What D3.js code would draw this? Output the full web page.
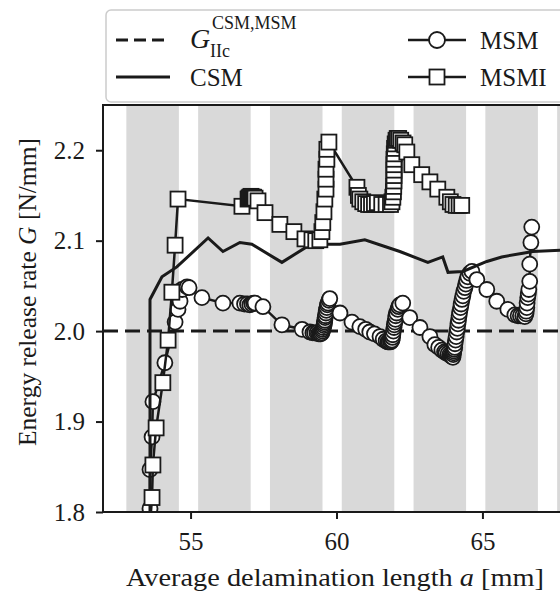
<!DOCTYPE html>
<html>
<head>
<meta charset="utf-8">
<script src="https://cdn.jsdelivr.net/npm/d3@7"></script>
<style>
  body { margin: 0; background: white; }
  svg { display: block; font-family: 'Liberation Serif', serif; }
</style>
</head>
<body>
<script>
// data
var xTicks = [55, 60, 65];
var yTicks = [1.8, 1.9, 2.0, 2.1, 2.2];
var bandStarts = [52.8, 55.26, 57.72, 60.18, 62.64, 65.1, 67.56];
var bandWidth = 1.8;
var gCrit = 2.0;

var csmPoints = [[53.61,1.78],[53.61,2.035],[54.02,2.06],[54.53,2.071],[55.6,2.103],[56.11,2.088],
  [56.69,2.098],[57.1,2.096],[58.13,2.076],[58.92,2.092],[59.43,2.096],[60.12,2.096],[60.97,2.101],
  [62.17,2.088],[63.13,2.076],[63.64,2.082],[63.82,2.065],[64.33,2.066],[65.15,2.077],[65.66,2.082],
  [66.73,2.088],[68,2.09]];

var msmPoints = [[53.61,1.804],[53.61,1.847],[53.68,1.883],[53.71,1.922],[54.12,1.965],[54.47,2.010],
  [54.57,2.024],[54.64,2.033],[54.71,2.046],[54.88,2.049],[54.95,2.048],[55.39,2.037],[56.11,2.031],
  [56.69,2.031],[56.85,2.030],[56.95,2.030],[57.03,2.029],[57.1,2.030],[57.16,2.031],[57.21,2.031],
  [57.48,2.027],[58.13,2.007],[58.82,2.002],[59.09,1.999],[59.19,1.998],[59.25,1.998],[59.33,1.998],
  [59.38,1.997],[59.43,1.997],[59.46,1.997],[59.5,1.998],[59.52,2.000],[59.53,2.002],[59.55,2.004],
  [59.57,2.006],[59.58,2.008],[59.59,2.010],[59.6,2.012],[59.61,2.015],[59.62,2.017],[59.64,2.020],
  [59.65,2.023],[59.67,2.026],[59.69,2.029],[59.71,2.031],[59.74,2.034],[59.77,2.036],
  [60.12,2.020],[60.53,2.010],[60.8,2.005],[61.0,2.002],[61.14,1.999],[61.3,1.997],[61.49,1.994],
  [61.6,1.991],[61.7,1.989],[61.76,1.988],[61.8,1.988],[61.85,1.988],[61.88,1.989],[61.9,1.990],
  [61.92,1.993],[61.93,1.996],[61.95,2.000],[61.97,2.004],[61.98,2.007],[62.0,2.010],[62.02,2.013],
  [62.03,2.017],[62.06,2.020],[62.1,2.024],[62.13,2.027],[62.17,2.029],[62.27,2.031],
  [62.51,2.015],[62.86,2.004],[63.2,1.994],[63.37,1.985],[63.5,1.982],[63.61,1.979],[63.7,1.977],
  [63.75,1.976],[63.82,1.975],[63.88,1.974],[63.92,1.973],[63.95,1.972],[63.99,1.971],[64.0,1.974],
  [64.01,1.976],[64.02,1.978],[64.03,1.980],[64.05,1.982],[64.06,1.986],[64.08,1.990],[64.1,1.994],
  [64.12,1.999],[64.14,2.003],[64.16,2.008],[64.18,2.012],[64.2,2.017],[64.22,2.021],[64.25,2.026],
  [64.27,2.030],[64.3,2.035],[64.33,2.039],[64.36,2.044],[64.4,2.048],[64.43,2.052],[64.46,2.056],
  [64.5,2.060],[64.57,2.064],[64.64,2.066],[64.81,2.057],[65.15,2.046],[65.49,2.033],[65.87,2.024],
  [66.11,2.018],[66.22,2.017],[66.3,2.017],[66.38,2.017],[66.45,2.016],[66.49,2.019],[66.5,2.022],
  [66.52,2.026],[66.53,2.031],[66.55,2.037],[66.57,2.041],[66.59,2.046],[66.62,2.055],[66.62,2.074],
  [66.66,2.098],[66.69,2.115]];

var msmiPoints = [[53.61,1.786],[53.68,1.816],[53.71,1.852],[53.82,1.893],[54.05,1.943],[54.23,1.990],
  [54.36,2.043],[54.47,2.095],[54.57,2.146],[56.76,2.138],[56.97,2.146],[57.0,2.147],[57.03,2.148],
  [57.07,2.149],[57.1,2.148],[57.13,2.148],[57.16,2.148],[57.21,2.147],[57.31,2.144],[57.55,2.131],
  [58.06,2.118],[58.54,2.110],[58.92,2.102],[59.16,2.101],[59.29,2.100],[59.43,2.101],[59.5,2.110],
  [59.53,2.120],[59.57,2.132],[59.6,2.146],[59.64,2.157],[59.64,2.168],[59.64,2.179],[59.67,2.190],
  [59.67,2.201],[59.74,2.209],[60.70,2.159],[60.75,2.150],[60.80,2.146],[60.9,2.143],[61.0,2.141],
  [61.1,2.140],[61.2,2.140],[61.3,2.141],[61.4,2.142],[61.55,2.140],[61.7,2.140],[61.85,2.140],
  [61.9,2.143],[61.93,2.148],[61.95,2.154],[61.96,2.160],[61.97,2.166],[61.97,2.172],[61.97,2.178],
  [61.97,2.184],[61.97,2.190],[61.98,2.196],[61.99,2.202],[62.01,2.207],[62.04,2.211],[62.08,2.213],
  [62.13,2.213],[62.2,2.211],[62.28,2.208],[62.34,2.206],[62.41,2.198],[62.58,2.184],[62.92,2.173],
  [63.2,2.165],[63.47,2.157],[63.78,2.148],[63.9,2.143],[63.99,2.140],[64.1,2.139],[64.2,2.139],
  [64.29,2.139]];

var ink = '#1a1a1a';
var plot = {left: 103, right: 570, top: 105, bottom: 512};

var svg = d3.select('body').append('svg')
  .attr('width', 560)
  .attr('height', 595);

var x = d3.scaleLinear().domain([52, 68]).range([plot.left, plot.right]);
var y = d3.scaleLinear().domain([1.8, 2.25]).range([plot.bottom, plot.top]);

svg.append('clipPath').attr('id', 'plotclip')
  .append('rect')
  .attr('x', plot.left).attr('y', plot.top)
  .attr('width', plot.right - plot.left).attr('height', plot.bottom - plot.top);

var inner = svg.append('g').attr('clip-path', 'url(#plotclip)');

// gray bands
inner.selectAll('rect.band')
  .data(bandStarts)
  .enter()
  .append('rect')
  .attr('class', 'band')
  .attr('x', function(d) {return x(d);})
  .attr('y', plot.top)
  .attr('width', function(d) {return x(d + bandWidth) - x(d);})
  .attr('height', plot.bottom - plot.top)
  .style('fill', '#d9d9d9');

// critical value
inner.append('line')
  .attr('x1', plot.left).attr('x2', plot.right)
  .attr('y1', y(gCrit)).attr('y2', y(gCrit))
  .style('stroke', ink)
  .style('stroke-width', 3)
  .style('stroke-dasharray', '15,7');

var line = d3.line()
  .x(function(d) {return x(d[0]);})
  .y(function(d) {return y(d[1]);});

// MSM
inner.append('path')
  .datum(msmPoints)
  .attr('d', line)
  .style('fill', 'none')
  .style('stroke', ink)
  .style('stroke-width', 2.5);

inner.selectAll('circle.msm')
  .data(msmPoints)
  .enter()
  .append('circle')
  .attr('class', 'msm')
  .attr('cx', function(d) {return x(d[0]);})
  .attr('cy', function(d) {return y(d[1]);})
  .attr('r', 7.5)
  .style('fill', 'white')
  .style('stroke', ink)
  .style('stroke-width', 1.8);

// CSM
inner.append('path')
  .datum(csmPoints)
  .attr('d', line)
  .style('fill', 'none')
  .style('stroke', ink)
  .style('stroke-width', 3);

// MSMI
inner.append('path')
  .datum(msmiPoints)
  .attr('d', line)
  .style('fill', 'none')
  .style('stroke', ink)
  .style('stroke-width', 2.5);

inner.selectAll('rect.msmi')
  .data(msmiPoints)
  .enter()
  .append('rect')
  .attr('class', 'msmi')
  .attr('x', function(d) {return x(d[0]) - 7.5;})
  .attr('y', function(d) {return y(d[1]) - 7.5;})
  .attr('width', 15)
  .attr('height', 15)
  .style('fill', 'white')
  .style('stroke', ink)
  .style('stroke-width', 1.8);

// frame and axes
svg.append('rect')
  .attr('x', plot.left).attr('y', plot.top)
  .attr('width', plot.right - plot.left).attr('height', plot.bottom - plot.top)
  .style('fill', 'none')
  .style('stroke', ink)
  .style('stroke-width', 2);

svg.append('g')
  .attr('transform', 'translate(0,' + plot.bottom + ')')
  .call(d3.axisBottom(x).tickValues(xTicks).tickSize(7).tickSizeOuter(0).tickPadding(13));

svg.append('g')
  .attr('transform', 'translate(' + plot.left + ',0)')
  .call(d3.axisLeft(y).tickValues(yTicks).tickFormat(d3.format('.1f')).tickSize(7).tickSizeOuter(0).tickPadding(11));

svg.selectAll('.domain').remove();
svg.selectAll('.tick line').style('stroke', ink).style('stroke-width', 2);
svg.selectAll('.tick text')
  .style('font-family', "'Liberation Serif', serif")
  .style('font-size', '25px')
  .style('fill', ink);

// axis titles
svg.append('text')
  .attr('x', 335)
  .attr('y', 586)
  .attr('text-anchor', 'middle')
  .attr('font-size', 25)
  .attr('fill', ink)
  .attr('textLength', 418)
  .attr('lengthAdjust', 'spacingAndGlyphs')
  .html('Average delamination length <tspan font-style="italic">a</tspan> [mm]');

svg.append('text')
  .attr('transform', 'translate(36,292) rotate(-90)')
  .attr('text-anchor', 'middle')
  .attr('font-size', 25)
  .attr('fill', ink)
  .attr('textLength', 308)
  .attr('lengthAdjust', 'spacingAndGlyphs')
  .html('Energy release rate <tspan font-style="italic">G</tspan> [N/mm]');

// legend
var legend = svg.append('g');

legend.append('rect')
  .attr('x', 106).attr('y', 10)
  .attr('width', 480).attr('height', 92)
  .attr('rx', 5)
  .style('fill', 'white')
  .style('stroke', '#cccccc')
  .style('stroke-width', 1.5);

legend.append('line')
  .attr('x1', 116).attr('x2', 170).attr('y1', 40).attr('y2', 40)
  .style('stroke', ink).style('stroke-width', 3).style('stroke-dasharray', '12,6');

legend.append('line')
  .attr('x1', 116).attr('x2', 170).attr('y1', 77).attr('y2', 77)
  .style('stroke', ink).style('stroke-width', 3);

legend.append('line')
  .attr('x1', 408).attr('x2', 466).attr('y1', 40).attr('y2', 40)
  .style('stroke', ink).style('stroke-width', 2.5);
legend.append('circle')
  .attr('cx', 437).attr('cy', 40).attr('r', 8)
  .style('fill', 'white').style('stroke', ink).style('stroke-width', 1.8);

legend.append('line')
  .attr('x1', 408).attr('x2', 466).attr('y1', 77).attr('y2', 77)
  .style('stroke', ink).style('stroke-width', 2.5);
legend.append('rect')
  .attr('x', 429.5).attr('y', 69.5).attr('width', 15).attr('height', 15)
  .style('fill', 'white').style('stroke', ink).style('stroke-width', 1.8);

legend.append('text')
  .attr('x', 190).attr('y', 48)
  .attr('font-size', 28).attr('font-style', 'italic').attr('fill', ink)
  .text('G');
legend.append('text')
  .attr('x', 210).attr('y', 57)
  .attr('font-size', 18).attr('fill', ink)
  .text('IIc');
legend.append('text')
  .attr('x', 212).attr('y', 29)
  .attr('font-size', 18).attr('fill', ink)
  .text('CSM,MSM');

legend.append('text')
  .attr('x', 190).attr('y', 86)
  .attr('font-size', 25).attr('fill', ink)
  .text('CSM');
legend.append('text')
  .attr('x', 480).attr('y', 49)
  .attr('font-size', 25).attr('fill', ink)
  .text('MSM');
legend.append('text')
  .attr('x', 480).attr('y', 86)
  .attr('font-size', 25).attr('fill', ink)
  .text('MSMI');
</script>
</body>
</html>
